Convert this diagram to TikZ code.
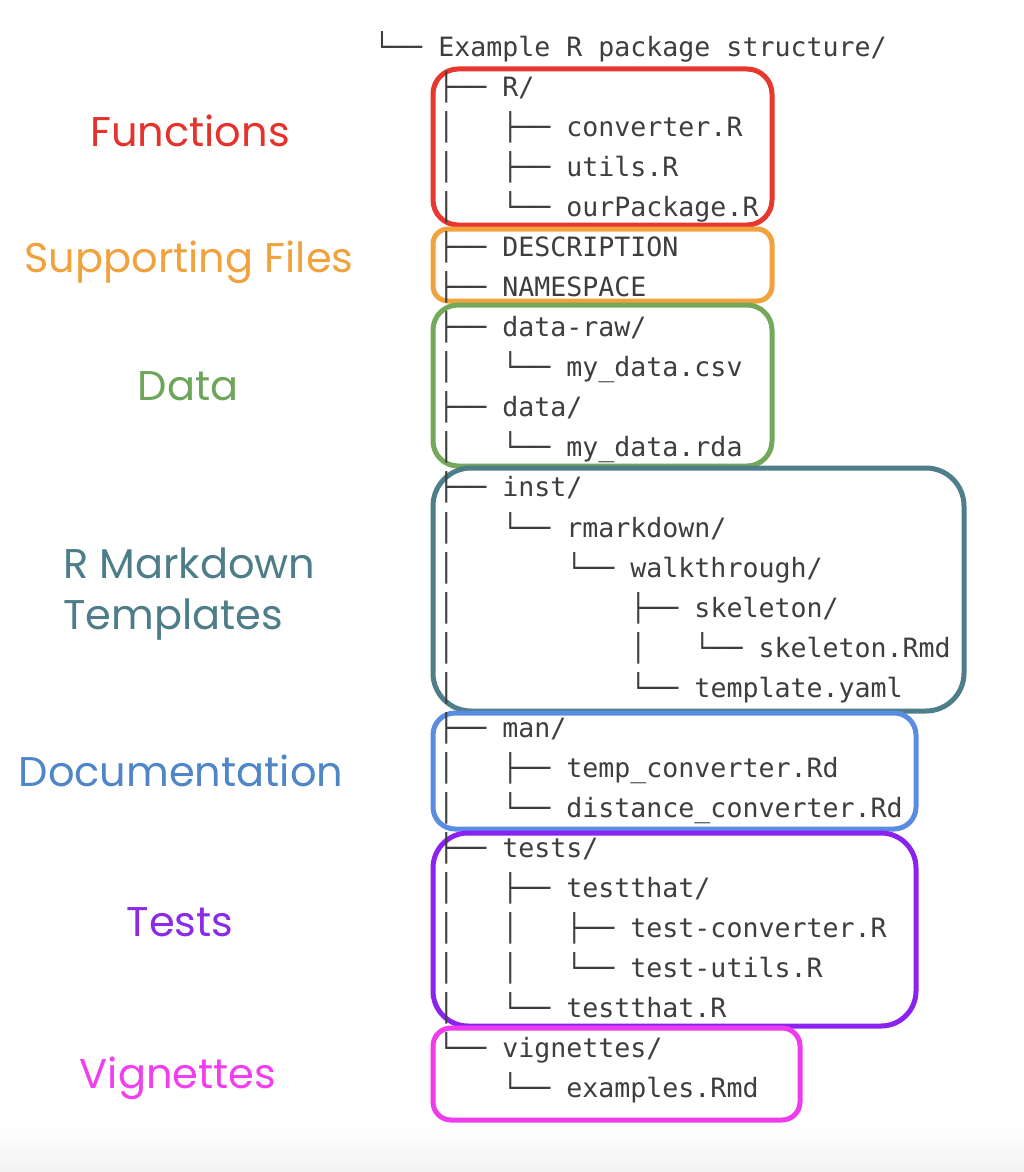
\documentclass[tikz,border=0pt]{standalone}
\usepackage{fontspec}
\newfontfamily\poppins{Poppins}
\newfontfamily\mono{DejaVu Sans Mono}
\frenchspacing
\definecolor{txt}{HTML}{3E3E3E}
\definecolor{cred}{HTML}{E8372E}
\definecolor{corange}{HTML}{F2A23C}
\definecolor{cgreen}{HTML}{74A85A}
\definecolor{cteal}{HTML}{4F7E8B}
\definecolor{cblue}{HTML}{5A8CE2}
\definecolor{cpurple}{HTML}{8C22F0}
\definecolor{cmag}{HTML}{EE3BEE}
\definecolor{lred}{HTML}{E5332B}
\definecolor{lorange}{HTML}{F0A23E}
\definecolor{lgreen}{HTML}{6DA65A}
\definecolor{lteal}{HTML}{4D7D88}
\definecolor{lblue}{HTML}{4F86C8}
\definecolor{lpurple}{HTML}{8A2BE8}
\definecolor{lmag}{HTML}{F03EF0}
\tikzset{
  row/.style={anchor=base west, inner sep=0pt, text=txt, font=\mono\fontsize{26.6}{32}\selectfont},
  lab/.style={anchor=center, inner sep=0pt, font=\poppins\fontsize{41.5}{51}\selectfont},
  grp/.style={line width=5pt},
}
\begin{document}
\begin{tikzpicture}[x=1pt,y=-1pt]
\useasboundingbox (0,0) rectangle (1024,1172);
\fill[white] (0,0) rectangle (1024,1172);
\shade[top color=white, bottom color=black!5] (0,1125) rectangle (1024,1172);
% group boxes
\draw[grp, cred, rounded corners=25pt] (433,69) rectangle (772,225);
\draw[grp, corange, rounded corners=15pt] (433,229) rectangle (772,301);
\draw[grp, cgreen, rounded corners=25pt] (433,305) rectangle (772,466);
\draw[grp, cteal, rounded corners=38pt] (433,468) rectangle (964,711);
\draw[grp, cblue, rounded corners=22pt] (433,713) rectangle (916,829);
\draw[grp, cpurple, rounded corners=35pt] (433,833) rectangle (916,1026);
\draw[grp, cmag, rounded corners=18pt] (433,1028) rectangle (800,1120);
% tree rows
\def\rx{374}
\node[row] (r0)  at (\rx, 56.5) {└──~Example~R~package~structure/};
\node[row] (r1)  at (\rx, 96.5) {~~~~├──~R/};
\node[row] (r2)  at (\rx,136.6) {~~~~│~~~├──~converter.R};
\node[row] (r3)  at (\rx,176.6) {~~~~│~~~├──~utils.R};
\node[row] (r4)  at (\rx,216.7) {~~~~│~~~└──~ourPackage.R};
\node[row] (r5)  at (\rx,256.7) {~~~~├──~DESCRIPTION};
\node[row] (r6)  at (\rx,296.7) {~~~~├──~NAMESPACE};
\node[row] (r7)  at (\rx,336.8) {~~~~├──~data-raw/};
\node[row] (r8)  at (\rx,376.8) {~~~~│~~~└──~my\_data.csv};
\node[row] (r9)  at (\rx,416.9) {~~~~├──~data/};
\node[row] (r10) at (\rx,456.9) {~~~~│~~~└──~my\_data.rda};
\node[row] (r11) at (\rx,496.9) {~~~~├──~inst/};
\node[row] (r12) at (\rx,537.0) {~~~~│~~~└──~rmarkdown/};
\node[row] (r13) at (\rx,577.0) {~~~~│~~~~~~~└──~walkthrough/};
\node[row] (r14) at (\rx,617.1) {~~~~│~~~~~~~~~~~├──~skeleton/};
\node[row] (r15) at (\rx,657.1) {~~~~│~~~~~~~~~~~│~~~└──~skeleton.Rmd};
\node[row] (r16) at (\rx,697.1) {~~~~│~~~~~~~~~~~└──~template.yaml};
\node[row] (r17) at (\rx,737.2) {~~~~├──~man/};
\node[row] (r18) at (\rx,777.2) {~~~~│~~~├──~temp\_converter.Rd};
\node[row] (r19) at (\rx,817.3) {~~~~│~~~└──~distance\_converter.Rd};
\node[row] (r20) at (\rx,857.3) {~~~~├──~tests/};
\node[row] (r21) at (\rx,897.3) {~~~~│~~~├──~testthat/};
\node[row] (r22) at (\rx,937.4) {~~~~│~~~│~~~├──~test-converter.R};
\node[row] (r23) at (\rx,977.4) {~~~~│~~~│~~~└──~test-utils.R};
\node[row] (r24) at (\rx,1017.5) {~~~~│~~~└──~testthat.R};
\node[row] (r25) at (\rx,1057.5) {~~~~└──~vignettes/};
\node[row] (r26) at (\rx,1097.5) {~~~~~~~~└──~examples.Rmd};
% labels
\node[lab, text=lred] (lf) at (190,131) {Functions};
\node[lab, text=lorange] (ls) at (189,262) {Supporting Files};
\node[lab, text=lgreen] (ld) at (188,386) {Data};
\node[lab, text=lteal, anchor=west, align=left] (lr) at (63,594) {R Markdown\\Templates};
\node[lab, text=lblue] (ldoc) at (181,771) {Documentation};
\node[lab, text=lpurple] (lt) at (180,922) {Tests};
\node[lab, text=lmag] (lv) at (178,1078) {Vignettes};
\end{tikzpicture}
\end{document}
